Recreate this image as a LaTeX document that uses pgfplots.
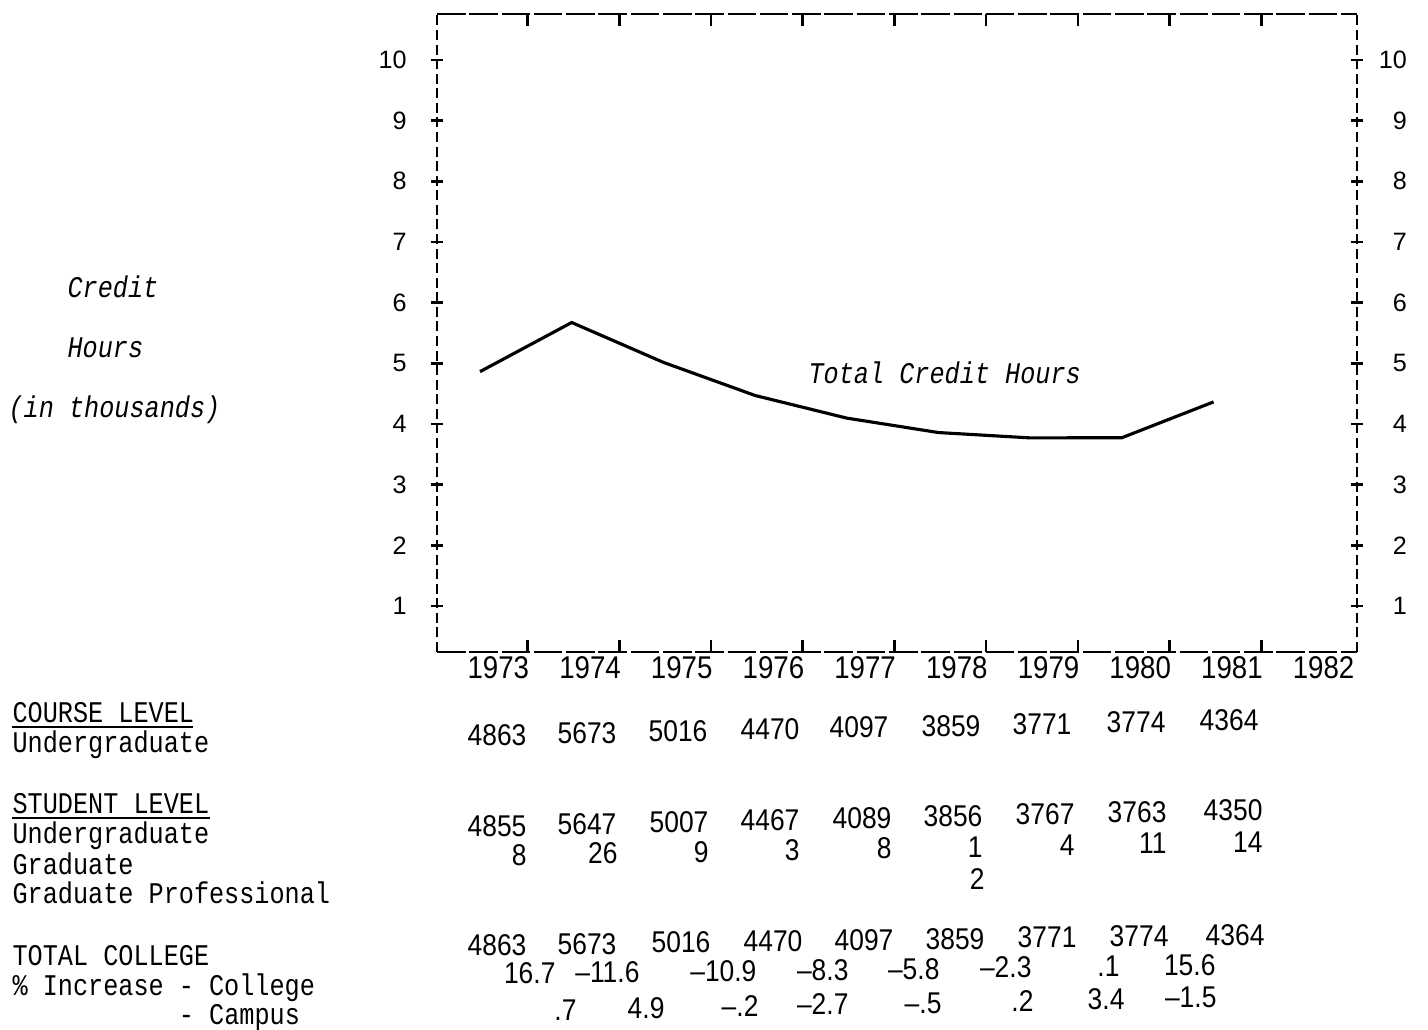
\documentclass[border=0pt]{standalone}
\usepackage{fontspec}
\usepackage{pgfplots}
\pgfplotsset{compat=1.18}
\setmainfont{Liberation Sans}
\newfontfamily\numf[FakeStretch=0.88]{Liberation Sans}
\newfontfamily\ticf{Liberation Sans}
\newfontfamily\typew[FakeStretch=0.84]{Liberation Mono}

% total credit hours (thousands), x = 0 for 1973
\pgfplotstableread{
yr val
0 4.863
1 5.673
2 5.016
3 4.470
4 4.097
5 3.859
6 3.771
7 3.774
8 4.364
}\totaltab

\tikzset{
  tw/.style={font=\typew\fontsize{10.5}{12}\selectfont, inner sep=0pt, anchor=base west},
  twi/.style={font=\typew\itshape\fontsize{10.5}{12}\selectfont, inner sep=0pt, anchor=base west},
  nm/.style={font=\numf\fontsize{10.5}{12}\selectfont, inner sep=0pt, anchor=east},
}

\begin{document}
\begin{tikzpicture}[x=0.35pt,y=-0.35pt]
\useasboundingbox (0,0) rectangle (1428,1029);

\begin{axis}[
  at={(152.95pt,-228.2pt)}, anchor=south west,
  scale only axis, width=322pt, height=223.3pt,
  xmin=-0.469, xmax=9.564, ymin=0.242, ymax=10.758,
  /pgf/number format/assume math mode=true,
  separate axis lines,
  every outer x axis line/.append style={line width=0.8pt, dash pattern=on 10pt off 1.3pt},
  every outer y axis line/.append style={line width=0.8pt, dash pattern=on 3.5pt off 1.6pt},
  xtick={0.52,1.52,...,8.52}, xticklabels={},
  xtick align=inside, ytick align=center,
  major tick length=4.2pt,
  tick style={black, line width=0.9pt},
  extra x ticks={0.2,1.2,...,9.2},
  extra x tick labels={1973,1974,1975,1976,1977,1978,1979,1980,1981,1982},
  extra x tick style={major tick length=0pt,
    tick label style={font=\numf\fontsize{11}{13}\selectfont, yshift=2pt}},
  ytick={1,...,10},
  yticklabel style={font=\ticf\fontsize{8.8}{10}\selectfont, xshift=-5pt},
  clip=false,
]
\addplot[black, line width=1.1pt, mark=none] table[x=yr, y=val] {\totaltab};
\end{axis}

% right-hand tick labels
\begin{axis}[
  at={(152.95pt,-228.2pt)}, anchor=south west,
  scale only axis, width=322pt, height=223.3pt,
  xmin=-0.469, xmax=9.564, ymin=0.242, ymax=10.758,
  /pgf/number format/assume math mode=true,
  hide x axis, axis y line*=right, axis line style={draw=none},
  ytick={1,...,10}, major tick length=0pt,
  yticklabel style={font=\ticf\fontsize{8.8}{10}\selectfont, anchor=east, xshift=21pt},
]
\addplot[draw=none] coordinates {(0,1)};
\end{axis}

% axis title at left
\node[twi] at (67,297) {Credit};
\node[twi] at (67,357) {Hours};
\node[twi] at (8,417) {(in thousands)};
\node[twi] at (808,383) {Total Credit Hours};

% row labels
\node[tw] at (12,722) {COURSE LEVEL};
\draw[line width=0.6pt] (12,727) -- (193,727);
\node[tw] at (12,752) {Undergraduate};
\node[tw] at (12,813) {STUDENT LEVEL};
\draw[line width=0.6pt] (12,818) -- (210,818);
\node[tw] at (12,843) {Undergraduate};
\node[tw] at (12,874) {Graduate};
\node[tw] at (12,903) {Graduate Professional};
\node[tw] at (12,965) {TOTAL COLLEGE};
\node[tw] at (12,995) {\% Increase - College};
\node[tw] at (12,1024) {\phantom{\% Increase }- Campus};

% course level, undergraduate
\foreach \x/\y/\v in {527/735/4863, 617/733/5673, 708/731/5016, 800/729/4470,
  889/727/4097, 981/726/3859, 1072/724/3771, 1166/722/3774, 1259/720/4364}
  \node[nm] at (\x,\y) {\v};
% student level, undergraduate
\foreach \x/\y/\v in {527/826/4855, 617/824/5647, 709/822/5007, 800/820/4467,
  892/818/4089, 983/816/3856, 1075/814/3767, 1167/812/3763, 1263/810/4350}
  \node[nm] at (\x,\y) {\v};
% student level, graduate
\foreach \x/\y/\v in {527/855/8, 618/853/26, 709/852/9, 800/850/3,
  892/848/8, 983/847/1, 1075/845/4, 1167/843/11, 1263/842/14}
  \node[nm] at (\x,\y) {\v};
% graduate professional
\node[nm] at (985,879) {2};
% total college
\foreach \x/\y/\v in {527/945/4863, 617/944/5673, 711/942/5016, 803/941/4470,
  894/940/4097, 985/939/3859, 1077/937/3771, 1169/936/3774, 1265/935/4364}
  \node[nm] at (\x,\y) {\v};
% percent increase, college
\foreach \x/\y/\v in {556/973/16.7, 640/972/–11.6, 757/971/–10.9, 849/970/–8.3,
  940/969/–5.8, 1032/967/–2.3, 1120/966/.1, 1216/965/15.6}
  \node[nm] at (\x,\y) {\v};
% percent increase, campus
\foreach \x/\y/\v in {577/1010/.7, 665/1008/4.9, 759/1006/–.2, 849/1004/–2.7,
  942/1003/–.5, 1034/1001/.2, 1125/999/3.4, 1217/997/–1.5}
  \node[nm] at (\x,\y) {\v};
\end{tikzpicture}
\end{document}
